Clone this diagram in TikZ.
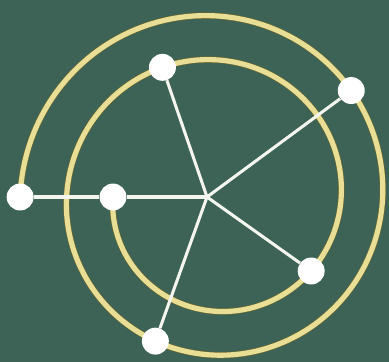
\documentclass[tikz,border=0pt]{standalone}
\usepackage{tikz}
\usetikzlibrary{calc}
\definecolor{boardcolor}{RGB}{60, 99, 85}
\definecolor{spiralcolor}{RGB}{232, 222, 150}
\definecolor{spiraledge}{RGB}{110, 105, 45}
\definecolor{spokecolor}{RGB}{245, 245, 240}
\tikzset{
spiralline/.style={
  draw=spiralcolor,
  line width=4.4pt,
  line cap=round
},
spiralshadow/.style={
  draw=spiraledge,
  line width=5.4pt,
  line cap=round
},
spoke/.style={
  draw=spokecolor,
  line width=2.6pt
},
dotnode/.style={
  circle,
  fill=white,
  minimum size=23pt,
  inner sep=0pt
},
declare function={
  sprad(\t)=100+0.129*(\t-180)+5*(sin((\t-180)/2))^2*(\t<540);
}
}

\begin{document}
\begin{tikzpicture}[x=0.03cm, y=-0.03cm]
  % Board
  \fill[boardcolor] (0,0) rectangle (389,362);
  \useasboundingbox (0,0) rectangle (389,362);

  % Spiral
  \draw[spiralshadow] plot[domain=180:900, samples=240, smooth, variable=\t]
    ({213+sprad(\t)*cos(\t)}, {197-sprad(\t)*sin(\t)});
  \draw[spiralline] plot[domain=180:900, samples=240, smooth, variable=\t]
    ({213+sprad(\t)*cos(\t)}, {197-sprad(\t)*sin(\t)});

  % Hub and dots on the spiral
  \coordinate (hub) at (207,197);
  \node[dotnode] (b) at ({213+sprad(180)*cos(180)}, {197-sprad(180)*sin(180)}) {};
  \node[dotnode] (e) at ({213+sprad(323)*cos(323)}, {197-sprad(323)*sin(323)}) {};
  \node[dotnode] (c) at ({213+sprad(471.3)*cos(471.3)}, {197-sprad(471.3)*sin(471.3)}) {};
  \node[dotnode] (f) at ({213+sprad(608.2)*cos(608.2)}, {197-sprad(608.2)*sin(608.2)}) {};
  \node[dotnode] (d) at ({213+sprad(757.6)*cos(757.6)}, {197-sprad(757.6)*sin(757.6)}) {};
  \node[dotnode] (a) at ({213+sprad(900)*cos(900)}, {197-sprad(900)*sin(900)}) {};

  % Spokes
  \draw[spoke] (hub) -- (b);
  \draw[spoke] (b) -- (a);
  \draw[spoke] (hub) -- (c);
  \draw[spoke] (hub) -- (d);
  \draw[spoke] (hub) -- (e);
  \draw[spoke] (hub) -- (f);
\end{tikzpicture}
\end{document}
